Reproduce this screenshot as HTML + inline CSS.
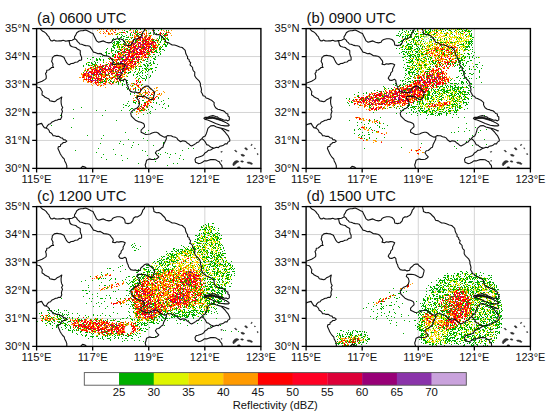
<!DOCTYPE html>
<html><head><meta charset="utf-8"><style>
html,body{margin:0;padding:0;background:#fff;}
svg{display:block;}
text{font-family:"Liberation Sans",sans-serif;fill:#111;}
</style></head><body>
<svg width="550" height="420" viewBox="0 0 550 420">
<defs><filter id="fzaS" filterUnits="userSpaceOnUse" x="0" y="0" width="224.3" height="139.8" color-interpolation-filters="sRGB"><feGaussianBlur in="SourceGraphic" stdDeviation="3.5" result="f"/><feTurbulence type="fractalNoise" baseFrequency="0.6" numOctaves="2" seed="3" result="t"/><feColorMatrix in="t" type="matrix" values="1 0 0 0 0 1 0 0 0 0 1 0 0 0 0 0 0 0 0 1" result="n"/><feComposite in="f" in2="n" operator="arithmetic" k1="0" k2="1" k3="0.8" k4="-0.55" result="v"/><feComponentTransfer in="v" result="c"><feFuncR type="discrete" tableValues="1 1 1 1 1 1 1 1 1 1 1 1 1 1 0.000 1 0.000 0.000 1 0.000 0.871 1 0.871 1 1.000 1 1.000 1 1.000 1 1.000 1.000 1.000 1.000 1.000 1.000 1.000 1.000 1.000 1.000"/><feFuncG type="discrete" tableValues="1 1 1 1 1 1 1 1 1 1 1 1 1 1 0.682 1 0.682 0.682 1 0.682 0.961 1 0.961 1 0.800 1 0.800 1 0.604 1 0.604 0.604 0.000 0.000 0.000 0.000 0.000 0.000 0.000 0.000"/><feFuncB type="discrete" tableValues="1 1 1 1 1 1 1 1 1 1 1 1 1 1 0.000 1 0.000 0.000 1 0.000 0.000 1 0.000 1 0.000 1 0.000 1 0.000 1 0.000 0.000 0.000 0.000 0.000 0.000 0.000 0.000 0.000 0.000"/></feComponentTransfer><feColorMatrix in="v" type="matrix" values="0 0 0 0 0 0 0 0 0 0 0 0 0 0 0 1 0 0 0 0" result="va"/><feComponentTransfer in="va" result="m"><feFuncA type="discrete" tableValues="0 0 0 0 0 0 0 0 0 0 0 0 0 0 1 0 1 1 0 1 1 0 1 0 1 0 1 0 1 0 1 1 1 1 1 1 1 1 1 1"/></feComponentTransfer><feComposite in="c" in2="m" operator="in"/><feGaussianBlur stdDeviation="0.65"/></filter><filter id="fzaC" filterUnits="userSpaceOnUse" x="0" y="0" width="224.3" height="139.8" color-interpolation-filters="sRGB"><feGaussianBlur in="SourceGraphic" stdDeviation="2.8" result="f"/><feTurbulence type="fractalNoise" baseFrequency="0.6" numOctaves="2" seed="53" result="t"/><feColorMatrix in="t" type="matrix" values="1 0 0 0 0 1 0 0 0 0 1 0 0 0 0 0 0 0 0 1" result="n"/><feComposite in="f" in2="n" operator="arithmetic" k1="0" k2="1.3" k3="1.5" k4="-1.05" result="v"/><feComponentTransfer in="v" result="c"><feFuncR type="discrete" tableValues="1 1 1 1 1 1 1 1 1 1 1 1 1 1 1.000 1 1.000 1.000 1 1.000 1.000 1.000 1.000 1 1.000 1.000 1.000 1 1.000 1.000 1.000 0.867 0.867 0.596 0.596 0.596 0.541 0.541 0.541 0.541"/><feFuncG type="discrete" tableValues="1 1 1 1 1 1 1 1 1 1 1 1 1 1 0.604 1 0.604 0.604 1 0.604 0.604 0.000 0.000 1 0.000 0.000 0.000 1 0.000 0.000 0.000 0.000 0.000 0.000 0.000 0.000 0.204 0.204 0.204 0.204"/><feFuncB type="discrete" tableValues="1 1 1 1 1 1 1 1 1 1 1 1 1 1 0.000 1 0.000 0.000 1 0.000 0.000 0.000 0.000 1 0.000 0.000 0.000 1 0.000 0.141 0.141 0.220 0.220 0.467 0.467 0.467 0.667 0.667 0.667 0.667"/></feComponentTransfer><feColorMatrix in="v" type="matrix" values="0 0 0 0 0 0 0 0 0 0 0 0 0 0 0 1 0 0 0 0" result="va"/><feComponentTransfer in="va" result="m"><feFuncA type="discrete" tableValues="0 0 0 0 0 0 0 0 0 0 0 0 0 0 1 0 1 1 0 1 1 1 1 0 1 1 1 0 1 1 1 1 1 1 1 1 1 1 1 1"/></feComponentTransfer><feComposite in="c" in2="m" operator="in"/><feGaussianBlur stdDeviation="0.65"/></filter><filter id="fzaK" filterUnits="userSpaceOnUse" x="0" y="0" width="224.3" height="139.8" color-interpolation-filters="sRGB"><feGaussianBlur in="SourceGraphic" stdDeviation="1" result="f"/><feTurbulence type="fractalNoise" baseFrequency="0.6" numOctaves="2" seed="93" result="t"/><feColorMatrix in="t" type="matrix" values="1 0 0 0 0 1 0 0 0 0 1 0 0 0 0 0 0 0 0 1" result="n"/><feComposite in="f" in2="n" operator="arithmetic" k1="0" k2="1.3" k3="1.3" k4="-0.95" result="v"/><feComponentTransfer in="v" result="c"><feFuncR type="discrete" tableValues="1 1 1 1 1 1 1 1 1 1 1 1 1 1 1.000 1 1.000 1.000 1 1.000 1.000 1.000 1.000 1 1.000 1.000 1.000 1 1.000 1.000 1.000 0.867 0.867 0.596 0.596 0.596 0.541 0.541 0.541 0.541"/><feFuncG type="discrete" tableValues="1 1 1 1 1 1 1 1 1 1 1 1 1 1 0.604 1 0.604 0.604 1 0.604 0.604 0.000 0.000 1 0.000 0.000 0.000 1 0.000 0.000 0.000 0.000 0.000 0.000 0.000 0.000 0.204 0.204 0.204 0.204"/><feFuncB type="discrete" tableValues="1 1 1 1 1 1 1 1 1 1 1 1 1 1 0.000 1 0.000 0.000 1 0.000 0.000 0.000 0.000 1 0.000 0.000 0.000 1 0.000 0.141 0.141 0.220 0.220 0.467 0.467 0.467 0.667 0.667 0.667 0.667"/></feComponentTransfer><feColorMatrix in="v" type="matrix" values="0 0 0 0 0 0 0 0 0 0 0 0 0 0 0 1 0 0 0 0" result="va"/><feComponentTransfer in="va" result="m"><feFuncA type="discrete" tableValues="0 0 0 0 0 0 0 0 0 0 0 0 0 0 1 0 1 1 0 1 1 1 1 0 1 1 1 0 1 1 1 1 1 1 1 1 1 1 1 1"/></feComponentTransfer><feComposite in="c" in2="m" operator="in"/><feGaussianBlur stdDeviation="0.65"/></filter><filter id="fzbS" filterUnits="userSpaceOnUse" x="0" y="0" width="224.3" height="139.8" color-interpolation-filters="sRGB"><feGaussianBlur in="SourceGraphic" stdDeviation="3.5" result="f"/><feTurbulence type="fractalNoise" baseFrequency="0.6" numOctaves="2" seed="7" result="t"/><feColorMatrix in="t" type="matrix" values="1 0 0 0 0 1 0 0 0 0 1 0 0 0 0 0 0 0 0 1" result="n"/><feComposite in="f" in2="n" operator="arithmetic" k1="0" k2="1" k3="0.8" k4="-0.55" result="v"/><feComponentTransfer in="v" result="c"><feFuncR type="discrete" tableValues="1 1 1 1 1 1 1 1 1 1 1 1 1 1 0.000 1 0.000 0.000 1 0.000 0.871 1 0.871 1 1.000 1 1.000 1 1.000 1 1.000 1.000 1.000 1.000 1.000 1.000 1.000 1.000 1.000 1.000"/><feFuncG type="discrete" tableValues="1 1 1 1 1 1 1 1 1 1 1 1 1 1 0.682 1 0.682 0.682 1 0.682 0.961 1 0.961 1 0.800 1 0.800 1 0.604 1 0.604 0.604 0.000 0.000 0.000 0.000 0.000 0.000 0.000 0.000"/><feFuncB type="discrete" tableValues="1 1 1 1 1 1 1 1 1 1 1 1 1 1 0.000 1 0.000 0.000 1 0.000 0.000 1 0.000 1 0.000 1 0.000 1 0.000 1 0.000 0.000 0.000 0.000 0.000 0.000 0.000 0.000 0.000 0.000"/></feComponentTransfer><feColorMatrix in="v" type="matrix" values="0 0 0 0 0 0 0 0 0 0 0 0 0 0 0 1 0 0 0 0" result="va"/><feComponentTransfer in="va" result="m"><feFuncA type="discrete" tableValues="0 0 0 0 0 0 0 0 0 0 0 0 0 0 1 0 1 1 0 1 1 0 1 0 1 0 1 0 1 0 1 1 1 1 1 1 1 1 1 1"/></feComponentTransfer><feComposite in="c" in2="m" operator="in"/><feGaussianBlur stdDeviation="0.65"/></filter><filter id="fzbC" filterUnits="userSpaceOnUse" x="0" y="0" width="224.3" height="139.8" color-interpolation-filters="sRGB"><feGaussianBlur in="SourceGraphic" stdDeviation="2.8" result="f"/><feTurbulence type="fractalNoise" baseFrequency="0.6" numOctaves="2" seed="57" result="t"/><feColorMatrix in="t" type="matrix" values="1 0 0 0 0 1 0 0 0 0 1 0 0 0 0 0 0 0 0 1" result="n"/><feComposite in="f" in2="n" operator="arithmetic" k1="0" k2="1.3" k3="1.5" k4="-1.05" result="v"/><feComponentTransfer in="v" result="c"><feFuncR type="discrete" tableValues="1 1 1 1 1 1 1 1 1 1 1 1 1 1 1.000 1 1.000 1.000 1 1.000 1.000 1.000 1.000 1 1.000 1.000 1.000 1 1.000 1.000 1.000 0.867 0.867 0.596 0.596 0.596 0.541 0.541 0.541 0.541"/><feFuncG type="discrete" tableValues="1 1 1 1 1 1 1 1 1 1 1 1 1 1 0.604 1 0.604 0.604 1 0.604 0.604 0.000 0.000 1 0.000 0.000 0.000 1 0.000 0.000 0.000 0.000 0.000 0.000 0.000 0.000 0.204 0.204 0.204 0.204"/><feFuncB type="discrete" tableValues="1 1 1 1 1 1 1 1 1 1 1 1 1 1 0.000 1 0.000 0.000 1 0.000 0.000 0.000 0.000 1 0.000 0.000 0.000 1 0.000 0.141 0.141 0.220 0.220 0.467 0.467 0.467 0.667 0.667 0.667 0.667"/></feComponentTransfer><feColorMatrix in="v" type="matrix" values="0 0 0 0 0 0 0 0 0 0 0 0 0 0 0 1 0 0 0 0" result="va"/><feComponentTransfer in="va" result="m"><feFuncA type="discrete" tableValues="0 0 0 0 0 0 0 0 0 0 0 0 0 0 1 0 1 1 0 1 1 1 1 0 1 1 1 0 1 1 1 1 1 1 1 1 1 1 1 1"/></feComponentTransfer><feComposite in="c" in2="m" operator="in"/><feGaussianBlur stdDeviation="0.65"/></filter><filter id="fzbK" filterUnits="userSpaceOnUse" x="0" y="0" width="224.3" height="139.8" color-interpolation-filters="sRGB"><feGaussianBlur in="SourceGraphic" stdDeviation="1" result="f"/><feTurbulence type="fractalNoise" baseFrequency="0.6" numOctaves="2" seed="97" result="t"/><feColorMatrix in="t" type="matrix" values="1 0 0 0 0 1 0 0 0 0 1 0 0 0 0 0 0 0 0 1" result="n"/><feComposite in="f" in2="n" operator="arithmetic" k1="0" k2="1.3" k3="1.3" k4="-0.95" result="v"/><feComponentTransfer in="v" result="c"><feFuncR type="discrete" tableValues="1 1 1 1 1 1 1 1 1 1 1 1 1 1 1.000 1 1.000 1.000 1 1.000 1.000 1.000 1.000 1 1.000 1.000 1.000 1 1.000 1.000 1.000 0.867 0.867 0.596 0.596 0.596 0.541 0.541 0.541 0.541"/><feFuncG type="discrete" tableValues="1 1 1 1 1 1 1 1 1 1 1 1 1 1 0.604 1 0.604 0.604 1 0.604 0.604 0.000 0.000 1 0.000 0.000 0.000 1 0.000 0.000 0.000 0.000 0.000 0.000 0.000 0.000 0.204 0.204 0.204 0.204"/><feFuncB type="discrete" tableValues="1 1 1 1 1 1 1 1 1 1 1 1 1 1 0.000 1 0.000 0.000 1 0.000 0.000 0.000 0.000 1 0.000 0.000 0.000 1 0.000 0.141 0.141 0.220 0.220 0.467 0.467 0.467 0.667 0.667 0.667 0.667"/></feComponentTransfer><feColorMatrix in="v" type="matrix" values="0 0 0 0 0 0 0 0 0 0 0 0 0 0 0 1 0 0 0 0" result="va"/><feComponentTransfer in="va" result="m"><feFuncA type="discrete" tableValues="0 0 0 0 0 0 0 0 0 0 0 0 0 0 1 0 1 1 0 1 1 1 1 0 1 1 1 0 1 1 1 1 1 1 1 1 1 1 1 1"/></feComponentTransfer><feComposite in="c" in2="m" operator="in"/><feGaussianBlur stdDeviation="0.65"/></filter><filter id="fzcS" filterUnits="userSpaceOnUse" x="0" y="0" width="224.3" height="139.8" color-interpolation-filters="sRGB"><feGaussianBlur in="SourceGraphic" stdDeviation="3.5" result="f"/><feTurbulence type="fractalNoise" baseFrequency="0.6" numOctaves="2" seed="11" result="t"/><feColorMatrix in="t" type="matrix" values="1 0 0 0 0 1 0 0 0 0 1 0 0 0 0 0 0 0 0 1" result="n"/><feComposite in="f" in2="n" operator="arithmetic" k1="0" k2="1" k3="0.8" k4="-0.55" result="v"/><feComponentTransfer in="v" result="c"><feFuncR type="discrete" tableValues="1 1 1 1 1 1 1 1 1 1 1 1 1 1 0.000 1 0.000 0.000 1 0.000 0.871 1 0.871 1 1.000 1 1.000 1 1.000 1 1.000 1.000 1.000 1.000 1.000 1.000 1.000 1.000 1.000 1.000"/><feFuncG type="discrete" tableValues="1 1 1 1 1 1 1 1 1 1 1 1 1 1 0.682 1 0.682 0.682 1 0.682 0.961 1 0.961 1 0.800 1 0.800 1 0.604 1 0.604 0.604 0.000 0.000 0.000 0.000 0.000 0.000 0.000 0.000"/><feFuncB type="discrete" tableValues="1 1 1 1 1 1 1 1 1 1 1 1 1 1 0.000 1 0.000 0.000 1 0.000 0.000 1 0.000 1 0.000 1 0.000 1 0.000 1 0.000 0.000 0.000 0.000 0.000 0.000 0.000 0.000 0.000 0.000"/></feComponentTransfer><feColorMatrix in="v" type="matrix" values="0 0 0 0 0 0 0 0 0 0 0 0 0 0 0 1 0 0 0 0" result="va"/><feComponentTransfer in="va" result="m"><feFuncA type="discrete" tableValues="0 0 0 0 0 0 0 0 0 0 0 0 0 0 1 0 1 1 0 1 1 0 1 0 1 0 1 0 1 0 1 1 1 1 1 1 1 1 1 1"/></feComponentTransfer><feComposite in="c" in2="m" operator="in"/><feGaussianBlur stdDeviation="0.65"/></filter><filter id="fzcC" filterUnits="userSpaceOnUse" x="0" y="0" width="224.3" height="139.8" color-interpolation-filters="sRGB"><feGaussianBlur in="SourceGraphic" stdDeviation="2.8" result="f"/><feTurbulence type="fractalNoise" baseFrequency="0.6" numOctaves="2" seed="61" result="t"/><feColorMatrix in="t" type="matrix" values="1 0 0 0 0 1 0 0 0 0 1 0 0 0 0 0 0 0 0 1" result="n"/><feComposite in="f" in2="n" operator="arithmetic" k1="0" k2="1.3" k3="1.5" k4="-1.05" result="v"/><feComponentTransfer in="v" result="c"><feFuncR type="discrete" tableValues="1 1 1 1 1 1 1 1 1 1 1 1 1 1 1.000 1 1.000 1.000 1 1.000 1.000 1.000 1.000 1 1.000 1.000 1.000 1 1.000 1.000 1.000 0.867 0.867 0.596 0.596 0.596 0.541 0.541 0.541 0.541"/><feFuncG type="discrete" tableValues="1 1 1 1 1 1 1 1 1 1 1 1 1 1 0.604 1 0.604 0.604 1 0.604 0.604 0.000 0.000 1 0.000 0.000 0.000 1 0.000 0.000 0.000 0.000 0.000 0.000 0.000 0.000 0.204 0.204 0.204 0.204"/><feFuncB type="discrete" tableValues="1 1 1 1 1 1 1 1 1 1 1 1 1 1 0.000 1 0.000 0.000 1 0.000 0.000 0.000 0.000 1 0.000 0.000 0.000 1 0.000 0.141 0.141 0.220 0.220 0.467 0.467 0.467 0.667 0.667 0.667 0.667"/></feComponentTransfer><feColorMatrix in="v" type="matrix" values="0 0 0 0 0 0 0 0 0 0 0 0 0 0 0 1 0 0 0 0" result="va"/><feComponentTransfer in="va" result="m"><feFuncA type="discrete" tableValues="0 0 0 0 0 0 0 0 0 0 0 0 0 0 1 0 1 1 0 1 1 1 1 0 1 1 1 0 1 1 1 1 1 1 1 1 1 1 1 1"/></feComponentTransfer><feComposite in="c" in2="m" operator="in"/><feGaussianBlur stdDeviation="0.65"/></filter><filter id="fzcK" filterUnits="userSpaceOnUse" x="0" y="0" width="224.3" height="139.8" color-interpolation-filters="sRGB"><feGaussianBlur in="SourceGraphic" stdDeviation="1" result="f"/><feTurbulence type="fractalNoise" baseFrequency="0.6" numOctaves="2" seed="101" result="t"/><feColorMatrix in="t" type="matrix" values="1 0 0 0 0 1 0 0 0 0 1 0 0 0 0 0 0 0 0 1" result="n"/><feComposite in="f" in2="n" operator="arithmetic" k1="0" k2="1.3" k3="1.3" k4="-0.95" result="v"/><feComponentTransfer in="v" result="c"><feFuncR type="discrete" tableValues="1 1 1 1 1 1 1 1 1 1 1 1 1 1 1.000 1 1.000 1.000 1 1.000 1.000 1.000 1.000 1 1.000 1.000 1.000 1 1.000 1.000 1.000 0.867 0.867 0.596 0.596 0.596 0.541 0.541 0.541 0.541"/><feFuncG type="discrete" tableValues="1 1 1 1 1 1 1 1 1 1 1 1 1 1 0.604 1 0.604 0.604 1 0.604 0.604 0.000 0.000 1 0.000 0.000 0.000 1 0.000 0.000 0.000 0.000 0.000 0.000 0.000 0.000 0.204 0.204 0.204 0.204"/><feFuncB type="discrete" tableValues="1 1 1 1 1 1 1 1 1 1 1 1 1 1 0.000 1 0.000 0.000 1 0.000 0.000 0.000 0.000 1 0.000 0.000 0.000 1 0.000 0.141 0.141 0.220 0.220 0.467 0.467 0.467 0.667 0.667 0.667 0.667"/></feComponentTransfer><feColorMatrix in="v" type="matrix" values="0 0 0 0 0 0 0 0 0 0 0 0 0 0 0 1 0 0 0 0" result="va"/><feComponentTransfer in="va" result="m"><feFuncA type="discrete" tableValues="0 0 0 0 0 0 0 0 0 0 0 0 0 0 1 0 1 1 0 1 1 1 1 0 1 1 1 0 1 1 1 1 1 1 1 1 1 1 1 1"/></feComponentTransfer><feComposite in="c" in2="m" operator="in"/><feGaussianBlur stdDeviation="0.65"/></filter><filter id="fzdS" filterUnits="userSpaceOnUse" x="0" y="0" width="224.3" height="139.8" color-interpolation-filters="sRGB"><feGaussianBlur in="SourceGraphic" stdDeviation="3.5" result="f"/><feTurbulence type="fractalNoise" baseFrequency="0.6" numOctaves="2" seed="19" result="t"/><feColorMatrix in="t" type="matrix" values="1 0 0 0 0 1 0 0 0 0 1 0 0 0 0 0 0 0 0 1" result="n"/><feComposite in="f" in2="n" operator="arithmetic" k1="0" k2="1" k3="0.8" k4="-0.55" result="v"/><feComponentTransfer in="v" result="c"><feFuncR type="discrete" tableValues="1 1 1 1 1 1 1 1 1 1 1 1 1 1 0.000 1 0.000 0.000 1 0.000 0.871 1 0.871 1 1.000 1 1.000 1 1.000 1 1.000 1.000 1.000 1.000 1.000 1.000 1.000 1.000 1.000 1.000"/><feFuncG type="discrete" tableValues="1 1 1 1 1 1 1 1 1 1 1 1 1 1 0.682 1 0.682 0.682 1 0.682 0.961 1 0.961 1 0.800 1 0.800 1 0.604 1 0.604 0.604 0.000 0.000 0.000 0.000 0.000 0.000 0.000 0.000"/><feFuncB type="discrete" tableValues="1 1 1 1 1 1 1 1 1 1 1 1 1 1 0.000 1 0.000 0.000 1 0.000 0.000 1 0.000 1 0.000 1 0.000 1 0.000 1 0.000 0.000 0.000 0.000 0.000 0.000 0.000 0.000 0.000 0.000"/></feComponentTransfer><feColorMatrix in="v" type="matrix" values="0 0 0 0 0 0 0 0 0 0 0 0 0 0 0 1 0 0 0 0" result="va"/><feComponentTransfer in="va" result="m"><feFuncA type="discrete" tableValues="0 0 0 0 0 0 0 0 0 0 0 0 0 0 1 0 1 1 0 1 1 0 1 0 1 0 1 0 1 0 1 1 1 1 1 1 1 1 1 1"/></feComponentTransfer><feComposite in="c" in2="m" operator="in"/><feGaussianBlur stdDeviation="0.65"/></filter><filter id="fzdC" filterUnits="userSpaceOnUse" x="0" y="0" width="224.3" height="139.8" color-interpolation-filters="sRGB"><feGaussianBlur in="SourceGraphic" stdDeviation="2.8" result="f"/><feTurbulence type="fractalNoise" baseFrequency="0.6" numOctaves="2" seed="69" result="t"/><feColorMatrix in="t" type="matrix" values="1 0 0 0 0 1 0 0 0 0 1 0 0 0 0 0 0 0 0 1" result="n"/><feComposite in="f" in2="n" operator="arithmetic" k1="0" k2="1.3" k3="1.5" k4="-1.05" result="v"/><feComponentTransfer in="v" result="c"><feFuncR type="discrete" tableValues="1 1 1 1 1 1 1 1 1 1 1 1 1 1 1.000 1 1.000 1.000 1 1.000 1.000 1.000 1.000 1 1.000 1.000 1.000 1 1.000 1.000 1.000 0.867 0.867 0.596 0.596 0.596 0.541 0.541 0.541 0.541"/><feFuncG type="discrete" tableValues="1 1 1 1 1 1 1 1 1 1 1 1 1 1 0.604 1 0.604 0.604 1 0.604 0.604 0.000 0.000 1 0.000 0.000 0.000 1 0.000 0.000 0.000 0.000 0.000 0.000 0.000 0.000 0.204 0.204 0.204 0.204"/><feFuncB type="discrete" tableValues="1 1 1 1 1 1 1 1 1 1 1 1 1 1 0.000 1 0.000 0.000 1 0.000 0.000 0.000 0.000 1 0.000 0.000 0.000 1 0.000 0.141 0.141 0.220 0.220 0.467 0.467 0.467 0.667 0.667 0.667 0.667"/></feComponentTransfer><feColorMatrix in="v" type="matrix" values="0 0 0 0 0 0 0 0 0 0 0 0 0 0 0 1 0 0 0 0" result="va"/><feComponentTransfer in="va" result="m"><feFuncA type="discrete" tableValues="0 0 0 0 0 0 0 0 0 0 0 0 0 0 1 0 1 1 0 1 1 1 1 0 1 1 1 0 1 1 1 1 1 1 1 1 1 1 1 1"/></feComponentTransfer><feComposite in="c" in2="m" operator="in"/><feGaussianBlur stdDeviation="0.65"/></filter><filter id="fzdK" filterUnits="userSpaceOnUse" x="0" y="0" width="224.3" height="139.8" color-interpolation-filters="sRGB"><feGaussianBlur in="SourceGraphic" stdDeviation="1" result="f"/><feTurbulence type="fractalNoise" baseFrequency="0.6" numOctaves="2" seed="109" result="t"/><feColorMatrix in="t" type="matrix" values="1 0 0 0 0 1 0 0 0 0 1 0 0 0 0 0 0 0 0 1" result="n"/><feComposite in="f" in2="n" operator="arithmetic" k1="0" k2="1.3" k3="1.3" k4="-0.95" result="v"/><feComponentTransfer in="v" result="c"><feFuncR type="discrete" tableValues="1 1 1 1 1 1 1 1 1 1 1 1 1 1 1.000 1 1.000 1.000 1 1.000 1.000 1.000 1.000 1 1.000 1.000 1.000 1 1.000 1.000 1.000 0.867 0.867 0.596 0.596 0.596 0.541 0.541 0.541 0.541"/><feFuncG type="discrete" tableValues="1 1 1 1 1 1 1 1 1 1 1 1 1 1 0.604 1 0.604 0.604 1 0.604 0.604 0.000 0.000 1 0.000 0.000 0.000 1 0.000 0.000 0.000 0.000 0.000 0.000 0.000 0.000 0.204 0.204 0.204 0.204"/><feFuncB type="discrete" tableValues="1 1 1 1 1 1 1 1 1 1 1 1 1 1 0.000 1 0.000 0.000 1 0.000 0.000 0.000 0.000 1 0.000 0.000 0.000 1 0.000 0.141 0.141 0.220 0.220 0.467 0.467 0.467 0.667 0.667 0.667 0.667"/></feComponentTransfer><feColorMatrix in="v" type="matrix" values="0 0 0 0 0 0 0 0 0 0 0 0 0 0 0 1 0 0 0 0" result="va"/><feComponentTransfer in="va" result="m"><feFuncA type="discrete" tableValues="0 0 0 0 0 0 0 0 0 0 0 0 0 0 1 0 1 1 0 1 1 1 1 0 1 1 1 0 1 1 1 1 1 1 1 1 1 1 1 1"/></feComponentTransfer><feComposite in="c" in2="m" operator="in"/><feGaussianBlur stdDeviation="0.65"/></filter>
<filter id="hb" x="-50%" y="-50%" width="200%" height="200%"><feGaussianBlur stdDeviation="0.7"/></filter><clipPath id="cp"><rect x="0" y="0" width="224.3" height="139.8"/></clipPath>
<g id="bnd"><path d="M4.1 -0.5 L4.1 0.7 L6.1 2.7 L7.9 3.5 L9.5 4.8 L10.9 6.8 L12.4 8.2 L13.0 10.2 L14.3 12.0 L15.9 12.3 L17.5 11.5 L19.1 12.3 L20.9 12.4 L22.7 12.1 L24.5 12.3 L26.6 11.7 L28.6 12.5 L30.7 12.3 L32.7 12.0 L35.5 11.6 L38.2 10.2 M38.2 10.2 L37.8 8.4 L38.9 6.8 L40.2 4.1 L42.3 2.7 L44.3 2.2 L46.4 2.0 L49.1 1.4 L51.8 2.7 L54.5 4.1 L56.4 5.0 L57.3 6.8 L58.6 9.5 L60.0 12.3 L62.0 13.6 L64.1 13.0 L66.8 12.3 L69.5 13.6 L72.3 14.3 L75.0 13.6 L75.9 11.8 L77.7 10.9 L80.5 10.2 L83.2 10.2 L85.9 10.9 L88.0 13.0 L88.4 14.7 L88.6 16.4 L91.4 17.0 L94.1 16.4 L96.1 14.3 L96.8 11.6 L98.9 10.2 L100.7 10.4 L102.3 9.5 L104.3 8.2 L105.7 5.5 L106.2 3.5 L107.7 2.0 L108.4 -0.5 M38.2 10.2 L39.9 11.3 L40.9 13.0 L42.2 14.1 L43.2 15.4 L45.0 15.7 L47.0 16.5 L49.1 17.0 L51.2 17.2 L53.2 17.7 L54.5 19.8 L55.9 21.8 L56.8 23.5 L58.6 23.9 L61.4 25.2 L63.6 24.8 L65.5 25.9 L67.3 27.1 L69.5 27.3 L71.7 27.6 L73.6 28.6 L74.5 30.0 L76.3 32.2 L76.7 33.9 L75.9 35.5 L78.5 36.2 L80.2 35.2 L82.1 35.5 L84.3 35.0 L86.5 35.1 L88.6 36.2 L87.5 38.7 L86.5 40.4 L86.5 42.4 L84.6 44.5 L84.4 46.2 L83.2 47.5 L82.1 49.6 L83.5 51.5 L85.7 51.8 L88.3 50.7 L89.7 51.8 L89.9 53.5 L90.2 55.2 L90.8 56.9 L91.6 58.5 L92.0 60.2 L93.0 61.6 L94.1 63.0 L96.8 63.6 L99.0 63.3 L100.9 64.3 L103.6 63.6 L104.1 61.5 L105.7 60.2 L107.7 58.2 L109.7 57.4 L111.8 57.5 L112.9 59.1 L114.5 60.2 L115.9 61.6 L118.0 63.6 L117.8 65.3 L117.3 67.0 L116.9 68.9 L115.9 70.5 L113.9 71.1 L111.8 69.8 L109.1 68.4 L107.1 67.9 L105.0 67.7 L103.0 67.8 L100.9 67.7 L100.2 69.8 L102.3 71.8 L103.0 74.5 L102.3 77.3 L101.1 78.9 L99.5 80.0 L97.6 80.6 L96.1 82.0 L94.8 83.2 L94.1 84.8 L94.8 87.5 L96.8 89.5 L98.9 91.6 L101.6 93.0 L104.3 93.6 L107.0 95.0 L107.8 96.5 L107.9 98.2 L106.7 99.2 L105.6 100.4 L104.5 101.6 L104.5 103.7 L107.2 105.0 L109.1 105.9 L111.3 105.7 L113.5 105.4 L115.4 104.4 L118.1 103.7 L119.9 103.7 L121.5 104.4 L123.6 106.4 L126.3 107.8 L128.0 108.6 L129.7 107.8 M129.7 107.8 L131.2 107.0 L132.9 107.2 L134.5 107.1 L136.4 108.2 L138.6 108.5 L140.3 109.5 L141.3 111.2 L142.7 112.2 L144.0 113.2 L145.9 112.1 L148.1 112.5 L149.5 113.2 L150.7 114.5 L152.2 115.3 L153.4 116.6 L155.0 117.3 L157.7 115.9 L159.1 115.0 L160.4 113.9 L162.1 113.4 L163.1 111.9 L165.2 110.0 L166.5 108.5 L168.6 107.4 L169.8 104.8 L170.5 102.7 L171.3 99.8 M165.2 110.0 L167.1 111.4 L168.6 113.2 L170.0 116.0 L172.0 116.6 L173.2 117.9 L174.7 118.7 L176.4 119.2 L178.1 119.4 M184.1 99.5 L186.5 101.5 L188.4 103.4 L189.8 105.3 L191.3 107.0 L192.3 109.0 L193.2 111.0 L193.1 112.5 L191.4 113.5 L190.4 115.3 L188.4 115.3 L186.8 116.7 L185.0 117.3 L183.2 117.6 L181.8 119.0 L179.7 118.6 L178.1 119.4 M168.0 90.5 L171.0 89.6 L176.0 89.2 L181.0 90.4 L185.0 92.0 L189.0 93.8 L192.0 95.6 L192.7 96.6 L192.0 97.3 L188.4 97.3 L184.1 96.6 L179.1 94.8 L174.1 92.7 L169.8 91.0 L168.0 90.5 M171.3 99.8 L174.1 97.3 L177.0 97.0 L179.8 98.4 L184.1 99.5 L187.0 100.2 L190.5 101.6 L192.7 102.3 M178.1 119.4 L175.9 120.2 L174.0 121.4 L171.6 121.8 L170.0 123.5 L168.2 124.5 L167.2 126.2 L165.3 127.5 L163.1 128.2 L161.4 128.7 L159.7 128.9 L158.4 131.0 L159.0 133.7 L161.8 135.0 L163.9 134.6 L165.9 133.7 L167.7 132.3 L170.0 132.3 L172.0 131.6 L174.0 131.0 L176.8 131.0 L179.0 131.1 L180.9 132.3 L182.7 133.2 L183.6 135.0 L185.2 136.7 L185.6 139.1 L186.0 140.5 M129.7 107.8 L129.7 110.5 L128.4 113.2 L127.0 115.9 L126.3 118.7 L124.7 119.4 L123.6 120.7 L122.1 121.9 L120.2 122.1 L118.8 124.1 L120.2 126.2 L122.2 128.2 L120.9 129.6 L119.0 130.6 L116.8 130.9 L114.7 130.8 L112.7 130.3 L110.0 131.6 L109.3 134.4 L108.6 136.4 L109.3 139.1 L109.3 140.5 M32.7 12.0 L32.7 13.6 L33.4 16.4 L34.8 17.9 L36.8 18.4 L39.2 18.9 L40.9 20.5 L43.6 21.8 L43.7 23.5 L43.6 25.2 L44.2 26.9 L45.0 28.6 L45.0 31.4 L42.7 31.8 L40.9 33.4 L38.7 33.6 L36.8 34.8 L34.6 34.9 L32.7 36.1 L31.1 35.4 L30.0 34.1 L28.6 31.4 L27.3 28.6 L24.5 27.3 L22.5 27.1 L20.5 26.6 L17.7 27.3 L15.7 29.3 L15.6 31.0 L15.0 32.7 L16.4 35.5 L16.1 37.3 L17.0 38.9 L15.0 38.9 L13.6 40.2 L12.1 41.4 L10.2 41.6 L10.0 43.5 L8.9 45.0 L9.5 46.6 L9.7 48.3 L9.5 50.0 L8.2 51.0 L5.5 52.7 L3.5 53.4 L1.4 54.1 L-0.5 54.8 M-0.5 58.2 L1.1 58.7 L2.7 58.9 L4.0 60.0 L4.8 61.6 L5.8 63.1 L5.4 64.8 L5.5 66.4 L7.0 67.2 L8.2 68.4 L10.2 69.5 L12.3 70.5 L13.2 72.1 L15.0 72.5 L17.7 73.2 L19.3 72.4 L20.5 71.1 L23.2 69.8 L25.2 68.4 L24.8 70.1 L24.5 71.8 L24.5 73.7 L24.7 75.5 L25.2 77.3 L26.1 79.0 L25.0 81.0 L25.9 82.7 L25.2 84.5 L24.8 86.3 L25.2 88.2 L23.9 90.9 L22.2 90.7 L20.7 91.5 L19.1 91.6 L17.1 92.7 L15.0 93.6 L14.0 95.2 L12.1 95.7 L10.9 97.0 L9.7 99.5 L11.4 100.5 L12.5 101.9 L13.1 103.7 L14.6 104.5 L15.7 105.6 L16.5 107.1 L18.3 107.2 L20.0 107.8 L22.3 107.8 L24.1 109.1 L25.9 109.5 L26.8 111.2 L28.7 111.3 L30.2 112.5 L28.7 113.8 L26.8 113.9 L25.6 115.1 L24.1 115.9 L23.8 117.7 L21.7 118.3 L21.3 120.0 L22.7 122.8 L23.5 124.9 L24.7 126.9 L26.1 128.9 L27.6 130.3 L28.1 132.3 L29.5 135.0 L30.2 137.0 L30.2 139.1 L30.2 140.5 M-0.5 96.8 L2.2 95.5 L5.0 94.8 L6.3 97.0 L7.7 99.0 L9.7 99.5 M43.8 140.5 L44.7 139.0 L45.9 137.8 L48.6 138.5 L50.6 140.5 M116.6 -0.5 L116.6 1.4 L117.2 3.1 L117.3 4.8 L120.0 6.1 L122.2 5.9 L124.1 6.8 L126.1 8.9 L128.2 10.9 L129.5 13.6 L132.3 14.3 L133.9 15.5 L135.6 16.4 L137.7 16.4 L139.6 17.0 L141.4 17.7 L143.2 18.4 L145.6 18.9 L147.3 20.5 L148.6 21.8 L148.9 23.5 L149.3 25.2 L150.0 26.6 L151.0 28.0 L150.9 29.9 L152.5 31.0 L152.7 32.7 L154.1 34.0 L153.4 36.2 L154.7 37.5 L156.0 38.9 L156.1 40.7 L156.8 42.3 L158.2 43.5 L158.1 45.4 L158.1 47.2 L159.0 48.7 L160.2 50.0 L162.5 52.2 L163.8 55.0 L163.8 57.1 L164.5 59.0 L164.9 61.0 L164.5 63.1 L165.7 65.1 L166.5 67.2 L168.4 67.6 L169.5 69.4 L171.3 69.9 L173.3 71.0 L175.4 72.0 L177.6 74.0 L177.4 75.8 L178.0 77.4 L179.0 79.2 L181.2 80.7 L183.1 81.0 L184.9 81.8 L186.8 82.2 L188.4 83.4 L189.6 84.9 L191.3 85.5 L191.3 87.3 L192.7 88.4 L192.7 91.3 L191.3 92.3 L189.6 91.4 L187.7 91.6 L184.8 90.5 L182.0 89.5 L180.8 88.3 L179.1 88.0 L176.3 87.0 L173.4 87.7 L170.5 88.8 L168.4 88.8 L167.3 89.5 L168.0 90.5" fill="none" stroke="#111" stroke-width="1.1" stroke-linejoin="round"/>
<path d="M171.0 89.2 L176.0 88.3 L181.0 89.8 L185.0 91.6 L186.0 92.4 L181.0 91.0 L176.0 89.6 L171.5 90.0 Z" fill="#111" stroke="#111" stroke-width="0.8"/><path d="M190.1 101.5 L191.3 101.6 L191.9 102.4 L190.9 102.5 Z M214.2 116.4 L215.0 115.7 L215.7 116.0 L215.3 116.7 L214.4 116.9 Z M208.0 119.5 L209.2 119.1 L210.4 119.8 L211.0 121.0 L209.8 121.3 L208.9 120.7 Z M217.5 119.6 L218.4 119.4 L219.0 119.9 L218.2 120.2 Z M197.9 121.9 L199.1 121.7 L200.3 122.8 L200.0 123.5 L198.8 122.8 Z M204.3 126.0 L206.1 125.7 L208.2 126.9 L207.3 127.7 L205.2 127.4 Z M184.1 123.2 L185.6 122.8 L185.6 123.4 L184.4 123.7 Z M184.6 132.0 L185.4 131.9 L185.3 132.6 L184.7 132.7 Z M196.6 134.4 L198.1 132.6 L199.9 132.0 L201.7 132.3 L202.3 133.2 L200.8 133.8 L199.6 135.0 L198.1 136.2 L196.9 137.4 L196.2 135.9 Z M204.0 132.4 L205.8 132.2 L207.0 133.0 L206.1 133.6 L204.6 133.3 Z M210.5 133.7 L212.5 133.4 L214.9 134.1 L216.0 135.3 L215.0 135.8 L212.8 135.0 L211.0 134.6 Z M200.9 138.4 L202.7 138.1 L203.9 139.0 L202.7 139.6 L201.2 139.6 Z M220.4 125.2 L221.3 124.9 L221.6 125.8 L220.9 126.1 Z" fill="#333" stroke="#222" stroke-width="0.5"/></g>
</defs>
<rect width="550" height="420" fill="#fff"/>

<g transform="translate(36.6 28.6)">
<path d="M56.08 0V139.80M112.15 0V139.80M168.23 0V139.80M0 27.96H224.30M0 55.92H224.30M0 83.88H224.30M0 111.84H224.30" stroke="#d4d4d4" stroke-width="1" fill="none"/>
<g filter="url(#fzaS)"><rect x="0" y="0" width="224.3" height="139.8" fill="#000"/><ellipse cx="60" cy="100" rx="60" ry="30" fill="rgb(69,69,69)"/><ellipse cx="110" cy="125" rx="60" ry="16" fill="rgb(82,82,82)"/><ellipse cx="110" cy="75" rx="28" ry="14" fill="rgb(102,102,102)"/><path d="M43.0 35.0 L48.0 28.0 L60.0 25.0 L70.0 14.0 L76.0 6.0 L80.0 -2.0 L135.0 -2.0 L135.0 8.0 L128.0 20.0 L124.0 35.0 L120.0 45.0 L112.0 52.0 L108.0 60.0 L100.0 64.0 L88.0 62.0 L75.0 57.0 L55.0 57.0 L44.0 50.0 Z" fill="rgb(122,122,122)"/><ellipse cx="72" cy="50" rx="8" ry="4" fill="rgb(153,153,153)"/><ellipse cx="85" cy="18" rx="9" ry="5" fill="rgb(158,158,158)"/><ellipse cx="125" cy="14" rx="10" ry="10" fill="rgb(150,150,150)"/><ellipse cx="112" cy="42" rx="9" ry="7" fill="rgb(135,135,135)"/><ellipse cx="95" cy="51" rx="3" ry="3" fill="rgb(0,0,0)"/><ellipse cx="118.7" cy="8.2" rx="2.5" ry="2.5" fill="rgb(0,0,0)"/></g>
<g filter="url(#fzaC)"><rect x="0" y="0" width="224.3" height="139.8" fill="#000"/><ellipse cx="67" cy="46" rx="24" ry="12" transform="rotate(-5 67 46)" fill="rgb(177,177,177)"/><ellipse cx="102" cy="20" rx="22" ry="12" transform="rotate(-20 102 20)" fill="rgb(177,177,177)"/><ellipse cx="88" cy="33" rx="16" ry="10" fill="rgb(173,173,173)"/><ellipse cx="100" cy="4" rx="16" ry="4" fill="rgb(141,141,141)"/><ellipse cx="128" cy="5" rx="10" ry="5" fill="rgb(147,147,147)"/><path d="M57.0 -2.0 L85.0 -2.0 L82.0 8.0 L62.0 8.0 Z" fill="rgb(129,129,129)"/><ellipse cx="99" cy="55" rx="9" ry="6" fill="rgb(149,149,149)"/><ellipse cx="108" cy="66" rx="18" ry="6" transform="rotate(-25 108 66)" fill="rgb(133,133,133)"/><ellipse cx="72" cy="50" rx="7" ry="3" fill="rgb(78,78,78)"/><ellipse cx="85" cy="18" rx="8" ry="4" fill="rgb(98,98,98)"/><ellipse cx="95" cy="51" rx="3" ry="3" fill="rgb(0,0,0)"/><ellipse cx="118.7" cy="8.2" rx="2.5" ry="2.5" fill="rgb(0,0,0)"/></g>
<g filter="url(#fzaK)"><rect x="0" y="0" width="224.3" height="139.8" fill="#000"/><ellipse cx="90" cy="37" rx="9" ry="2.5" fill="rgb(196,196,196)"/><ellipse cx="110" cy="75" rx="14" ry="2.5" transform="rotate(-35 110 75)" fill="rgb(163,163,163)"/><ellipse cx="120" cy="68" rx="12" ry="2" transform="rotate(-35 120 68)" fill="rgb(167,167,167)"/><ellipse cx="105" cy="82" rx="10" ry="2" transform="rotate(-35 105 82)" fill="rgb(159,159,159)"/></g>
<ellipse cx="95" cy="51" rx="3" ry="3" fill="#fff" fill-opacity="1" filter="url(#hb)"/>
<ellipse cx="118.7" cy="8.2" rx="2.5" ry="2.5" fill="#fff" fill-opacity="0.9" filter="url(#hb)"/>
<g clip-path="url(#cp)"><use href="#bnd"/></g>
<rect x="0" y="0" width="224.3" height="139.8" fill="none" stroke="#000" stroke-width="1.4"/>
<path d="M0.00 139.80V144.00M56.08 139.80V144.00M112.15 139.80V144.00M168.23 139.80V144.00M224.30 139.80V144.00M0 0.00H-4.4M0 27.96H-4.4M0 55.92H-4.4M0 83.88H-4.4M0 111.84H-4.4M0 139.80H-4.4" stroke="#000" stroke-width="1.3" fill="none"/>
<text x="-6.6" y="3.70" font-size="10.6" text-anchor="end" textLength="25" lengthAdjust="spacingAndGlyphs">35°N</text>
<text x="-6.6" y="31.66" font-size="10.6" text-anchor="end" textLength="25" lengthAdjust="spacingAndGlyphs">34°N</text>
<text x="-6.6" y="59.62" font-size="10.6" text-anchor="end" textLength="25" lengthAdjust="spacingAndGlyphs">33°N</text>
<text x="-6.6" y="87.58" font-size="10.6" text-anchor="end" textLength="25" lengthAdjust="spacingAndGlyphs">32°N</text>
<text x="-6.6" y="115.54" font-size="10.6" text-anchor="end" textLength="25" lengthAdjust="spacingAndGlyphs">31°N</text>
<text x="-6.6" y="143.50" font-size="10.6" text-anchor="end" textLength="25" lengthAdjust="spacingAndGlyphs">30°N</text>
<text x="0.00" y="154.40" font-size="10.6" text-anchor="middle" textLength="30" lengthAdjust="spacingAndGlyphs">115°E</text>
<text x="56.08" y="154.40" font-size="10.6" text-anchor="middle" textLength="30" lengthAdjust="spacingAndGlyphs">117°E</text>
<text x="112.15" y="154.40" font-size="10.6" text-anchor="middle" textLength="30" lengthAdjust="spacingAndGlyphs">119°E</text>
<text x="168.23" y="154.40" font-size="10.6" text-anchor="middle" textLength="30" lengthAdjust="spacingAndGlyphs">121°E</text>
<text x="224.30" y="154.40" font-size="10.6" text-anchor="middle" textLength="30" lengthAdjust="spacingAndGlyphs">123°E</text>
<text x="0.4" y="-5.2" font-size="14" textLength="89.5" lengthAdjust="spacingAndGlyphs">(a) 0600 UTC</text>
</g>
<g transform="translate(306.1 28.6)">
<path d="M56.08 0V139.80M112.15 0V139.80M168.23 0V139.80M0 27.96H224.30M0 55.92H224.30M0 83.88H224.30M0 111.84H224.30" stroke="#d4d4d4" stroke-width="1" fill="none"/>
<g filter="url(#fzbS)"><rect x="0" y="0" width="224.3" height="139.8" fill="#000"/><ellipse cx="110" cy="75" rx="100" ry="60" fill="rgb(59,59,59)"/><ellipse cx="165" cy="110" rx="25" ry="18" fill="rgb(82,82,82)"/><path d="M88.0 -2.0 L168.0 -2.0 L170.0 15.0 L172.0 35.0 L168.0 50.0 L162.0 65.0 L160.0 84.0 L140.0 88.0 L110.0 86.0 L85.0 82.0 L60.0 81.0 L40.0 76.0 L38.0 70.0 L55.0 64.0 L80.0 58.0 L95.0 50.0 L102.0 40.0 L98.0 25.0 L90.0 15.0 Z" fill="rgb(122,122,122)"/><path d="M108.0 -2.0 L165.0 -2.0 L168.0 12.0 L162.0 28.0 L150.0 34.0 L130.0 33.0 L115.0 28.0 L110.0 15.0 Z" fill="rgb(181,181,181)"/><ellipse cx="140" cy="4" rx="22" ry="7" fill="rgb(186,186,186)"/><ellipse cx="100" cy="15" rx="9" ry="15" fill="rgb(150,150,150)"/><ellipse cx="112" cy="38" rx="12" ry="10" fill="rgb(179,179,179)"/><ellipse cx="168" cy="35" rx="10" ry="22" fill="rgb(107,107,107)"/><ellipse cx="137" cy="73" rx="28" ry="12" transform="rotate(-15 137 73)" fill="rgb(166,166,166)"/><ellipse cx="65" cy="100" rx="20" ry="14" transform="rotate(-20 65 100)" fill="rgb(102,102,102)"/><ellipse cx="145.4" cy="44" rx="4.5" ry="4" fill="rgb(0,0,0)"/><ellipse cx="120.7" cy="10.2" rx="3.5" ry="3.5" fill="rgb(102,102,102)"/></g>
<g filter="url(#fzbC)"><rect x="0" y="0" width="224.3" height="139.8" fill="#000"/><path d="M38.0 72.0 L60.0 65.0 L85.0 60.0 L105.0 54.0 L122.0 52.0 L122.0 68.0 L100.0 78.0 L80.0 80.0 L55.0 79.0 Z" fill="rgb(177,177,177)"/><ellipse cx="128" cy="50" rx="24" ry="10" transform="rotate(-15 128 50)" fill="rgb(177,177,177)"/><ellipse cx="140" cy="35" rx="14" ry="8" transform="rotate(-20 140 35)" fill="rgb(141,141,141)"/><ellipse cx="135" cy="22" rx="20" ry="9" transform="rotate(-10 135 22)" fill="rgb(129,129,129)"/><ellipse cx="112" cy="122" rx="10" ry="4" fill="rgb(137,137,137)"/><ellipse cx="145.4" cy="44" rx="4.5" ry="4" fill="rgb(0,0,0)"/></g>
<g filter="url(#fzbK)"><rect x="0" y="0" width="224.3" height="139.8" fill="#000"/><ellipse cx="133" cy="76" rx="14" ry="3" transform="rotate(-10 133 76)" fill="rgb(173,173,173)"/><ellipse cx="70" cy="80" rx="11" ry="2.5" transform="rotate(-5 70 80)" fill="rgb(163,163,163)"/><ellipse cx="55" cy="90" rx="8" ry="1.6" transform="rotate(15 55 90)" fill="rgb(180,180,180)"/><ellipse cx="69" cy="93" rx="9" ry="1.6" transform="rotate(15 69 93)" fill="rgb(180,180,180)"/><ellipse cx="60" cy="100" rx="9" ry="1.6" transform="rotate(15 60 100)" fill="rgb(177,177,177)"/><ellipse cx="76" cy="104" rx="8" ry="1.6" transform="rotate(15 76 104)" fill="rgb(177,177,177)"/><ellipse cx="57" cy="110" rx="8" ry="1.6" transform="rotate(15 57 110)" fill="rgb(173,173,173)"/><ellipse cx="71" cy="113" rx="7" ry="1.6" transform="rotate(15 71 113)" fill="rgb(173,173,173)"/></g>
<ellipse cx="145.4" cy="44" rx="4.6" ry="4.2" fill="#fff" fill-opacity="1" filter="url(#hb)"/>
<ellipse cx="120.7" cy="10.2" rx="3.5" ry="3.5" fill="#fff" fill-opacity="0.6" filter="url(#hb)"/>
<g clip-path="url(#cp)"><use href="#bnd"/></g>
<rect x="0" y="0" width="224.3" height="139.8" fill="none" stroke="#000" stroke-width="1.4"/>
<path d="M0.00 139.80V144.00M56.08 139.80V144.00M112.15 139.80V144.00M168.23 139.80V144.00M224.30 139.80V144.00M0 0.00H-4.4M0 27.96H-4.4M0 55.92H-4.4M0 83.88H-4.4M0 111.84H-4.4M0 139.80H-4.4" stroke="#000" stroke-width="1.3" fill="none"/>
<text x="-6.6" y="3.70" font-size="10.6" text-anchor="end" textLength="25" lengthAdjust="spacingAndGlyphs">35°N</text>
<text x="-6.6" y="31.66" font-size="10.6" text-anchor="end" textLength="25" lengthAdjust="spacingAndGlyphs">34°N</text>
<text x="-6.6" y="59.62" font-size="10.6" text-anchor="end" textLength="25" lengthAdjust="spacingAndGlyphs">33°N</text>
<text x="-6.6" y="87.58" font-size="10.6" text-anchor="end" textLength="25" lengthAdjust="spacingAndGlyphs">32°N</text>
<text x="-6.6" y="115.54" font-size="10.6" text-anchor="end" textLength="25" lengthAdjust="spacingAndGlyphs">31°N</text>
<text x="-6.6" y="143.50" font-size="10.6" text-anchor="end" textLength="25" lengthAdjust="spacingAndGlyphs">30°N</text>
<text x="0.00" y="154.40" font-size="10.6" text-anchor="middle" textLength="30" lengthAdjust="spacingAndGlyphs">115°E</text>
<text x="56.08" y="154.40" font-size="10.6" text-anchor="middle" textLength="30" lengthAdjust="spacingAndGlyphs">117°E</text>
<text x="112.15" y="154.40" font-size="10.6" text-anchor="middle" textLength="30" lengthAdjust="spacingAndGlyphs">119°E</text>
<text x="168.23" y="154.40" font-size="10.6" text-anchor="middle" textLength="30" lengthAdjust="spacingAndGlyphs">121°E</text>
<text x="224.30" y="154.40" font-size="10.6" text-anchor="middle" textLength="30" lengthAdjust="spacingAndGlyphs">123°E</text>
<text x="0.4" y="-5.2" font-size="14" textLength="89.5" lengthAdjust="spacingAndGlyphs">(b) 0900 UTC</text>
</g>
<g transform="translate(36.6 206.6)">
<path d="M56.08 0V139.80M112.15 0V139.80M168.23 0V139.80M0 27.96H224.30M0 55.92H224.30M0 83.88H224.30M0 111.84H224.30" stroke="#d4d4d4" stroke-width="1" fill="none"/>
<g filter="url(#fzcS)"><rect x="0" y="0" width="224.3" height="139.8" fill="#000"/><ellipse cx="100" cy="100" rx="100" ry="40" fill="rgb(64,64,64)"/><ellipse cx="80" cy="80" rx="40" ry="25" transform="rotate(-15 80 80)" fill="rgb(89,89,89)"/><ellipse cx="95" cy="40" rx="8" ry="6" fill="rgb(122,122,122)"/><ellipse cx="98" cy="7" rx="8" ry="3" fill="rgb(115,115,115)"/><path d="M93.0 75.0 L105.0 62.0 L118.0 52.0 L128.0 45.0 L140.0 40.0 L155.0 36.0 L175.0 40.0 L195.0 52.0 L202.0 68.0 L192.0 85.0 L184.0 100.0 L172.0 110.0 L150.0 113.0 L130.0 113.0 L110.0 120.0 L95.0 112.0 Z" fill="rgb(150,150,150)"/><ellipse cx="125" cy="85" rx="22" ry="14" fill="rgb(181,181,181)"/><ellipse cx="172" cy="42" rx="16" ry="27" fill="rgb(166,166,166)"/><ellipse cx="148" cy="58" rx="16" ry="12" fill="rgb(196,196,196)"/><ellipse cx="134" cy="55" rx="7" ry="5" fill="rgb(153,153,153)"/><ellipse cx="100" cy="42" rx="8" ry="5" fill="rgb(145,145,145)"/><ellipse cx="187" cy="63" rx="10" ry="7" fill="rgb(150,150,150)"/><ellipse cx="168" cy="99" rx="13" ry="8" fill="rgb(161,161,161)"/><path d="M0.0 104.0 L20.0 102.0 L40.0 108.0 L70.0 110.0 L102.0 113.0 L112.0 124.0 L100.0 134.0 L60.0 135.0 L30.0 126.0 L0.0 120.0 Z" fill="rgb(130,130,130)"/><ellipse cx="190" cy="125" rx="20" ry="12" fill="rgb(89,89,89)"/></g>
<g filter="url(#fzcC)"><rect x="0" y="0" width="224.3" height="139.8" fill="#000"/><path d="M95.0 80.0 L110.0 68.0 L130.0 62.0 L150.0 60.0 L165.0 62.0 L170.0 75.0 L168.0 90.0 L160.0 100.0 L140.0 104.0 L120.0 108.0 L100.0 108.0 L93.0 95.0 Z" fill="rgb(143,143,143)"/><ellipse cx="143" cy="92" rx="9" ry="8" fill="rgb(180,180,180)"/><ellipse cx="155" cy="72" rx="10" ry="8" transform="rotate(-20 155 72)" fill="rgb(177,177,177)"/><ellipse cx="112" cy="106" rx="15" ry="9" transform="rotate(-10 112 106)" fill="rgb(177,177,177)"/><ellipse cx="106" cy="92" rx="12" ry="14" fill="rgb(167,167,167)"/><ellipse cx="12" cy="112" rx="14" ry="4" transform="rotate(5 12 112)" fill="rgb(157,157,157)"/><path d="M32.0 112.0 L50.0 111.0 L75.0 113.0 L100.0 116.0 L106.0 124.0 L96.0 129.0 L70.0 130.0 L45.0 126.0 L32.0 120.0 Z" fill="rgb(169,169,169)"/><ellipse cx="88" cy="122" rx="8" ry="4" fill="rgb(173,173,173)"/><ellipse cx="168" cy="99" rx="10" ry="7" fill="rgb(98,98,98)"/></g>
<g filter="url(#fzcK)"><rect x="0" y="0" width="224.3" height="139.8" fill="#000"/><ellipse cx="75" cy="80" rx="15" ry="3" transform="rotate(-15 75 80)" fill="rgb(141,141,141)"/><ellipse cx="85" cy="95" rx="14" ry="3" transform="rotate(-15 85 95)" fill="rgb(141,141,141)"/><ellipse cx="65" cy="70" rx="12" ry="2.5" transform="rotate(-10 65 70)" fill="rgb(137,137,137)"/></g>
<ellipse cx="91.6" cy="122.8" rx="3.8" ry="3.8" fill="#fff" fill-opacity="1" filter="url(#hb)"/>
<g clip-path="url(#cp)"><use href="#bnd"/></g>
<rect x="0" y="0" width="224.3" height="139.8" fill="none" stroke="#000" stroke-width="1.4"/>
<path d="M0.00 139.80V144.00M56.08 139.80V144.00M112.15 139.80V144.00M168.23 139.80V144.00M224.30 139.80V144.00M0 0.00H-4.4M0 27.96H-4.4M0 55.92H-4.4M0 83.88H-4.4M0 111.84H-4.4M0 139.80H-4.4" stroke="#000" stroke-width="1.3" fill="none"/>
<text x="-6.6" y="3.70" font-size="10.6" text-anchor="end" textLength="25" lengthAdjust="spacingAndGlyphs">35°N</text>
<text x="-6.6" y="31.66" font-size="10.6" text-anchor="end" textLength="25" lengthAdjust="spacingAndGlyphs">34°N</text>
<text x="-6.6" y="59.62" font-size="10.6" text-anchor="end" textLength="25" lengthAdjust="spacingAndGlyphs">33°N</text>
<text x="-6.6" y="87.58" font-size="10.6" text-anchor="end" textLength="25" lengthAdjust="spacingAndGlyphs">32°N</text>
<text x="-6.6" y="115.54" font-size="10.6" text-anchor="end" textLength="25" lengthAdjust="spacingAndGlyphs">31°N</text>
<text x="-6.6" y="143.50" font-size="10.6" text-anchor="end" textLength="25" lengthAdjust="spacingAndGlyphs">30°N</text>
<text x="0.00" y="154.40" font-size="10.6" text-anchor="middle" textLength="30" lengthAdjust="spacingAndGlyphs">115°E</text>
<text x="56.08" y="154.40" font-size="10.6" text-anchor="middle" textLength="30" lengthAdjust="spacingAndGlyphs">117°E</text>
<text x="112.15" y="154.40" font-size="10.6" text-anchor="middle" textLength="30" lengthAdjust="spacingAndGlyphs">119°E</text>
<text x="168.23" y="154.40" font-size="10.6" text-anchor="middle" textLength="30" lengthAdjust="spacingAndGlyphs">121°E</text>
<text x="224.30" y="154.40" font-size="10.6" text-anchor="middle" textLength="30" lengthAdjust="spacingAndGlyphs">123°E</text>
<text x="0.4" y="-5.2" font-size="14" textLength="89.5" lengthAdjust="spacingAndGlyphs">(c) 1200 UTC</text>
</g>
<g transform="translate(306.1 206.6)">
<path d="M56.08 0V139.80M112.15 0V139.80M168.23 0V139.80M0 27.96H224.30M0 55.92H224.30M0 83.88H224.30M0 111.84H224.30" stroke="#d4d4d4" stroke-width="1" fill="none"/>
<g filter="url(#fzdS)"><rect x="0" y="0" width="224.3" height="139.8" fill="#000"/><ellipse cx="90" cy="100" rx="80" ry="40" fill="rgb(64,64,64)"/><path d="M112.0 100.0 L122.0 82.0 L135.0 68.0 L155.0 62.0 L175.0 63.0 L188.0 70.0 L196.0 85.0 L200.0 105.0 L196.0 125.0 L190.0 141.0 L115.0 141.0 L110.0 120.0 Z" fill="rgb(140,140,140)"/><ellipse cx="180" cy="88" rx="13" ry="14" fill="rgb(171,171,171)"/><ellipse cx="176" cy="115" rx="22" ry="22" fill="rgb(156,156,156)"/><ellipse cx="128" cy="122" rx="14" ry="17" fill="rgb(184,184,184)"/><ellipse cx="150" cy="80" rx="15" ry="8" fill="rgb(158,158,158)"/><path d="M25.0 128.0 L45.0 124.0 L62.0 126.0 L66.0 134.0 L56.0 141.0 L30.0 141.0 Z" fill="rgb(153,153,153)"/><ellipse cx="185" cy="40" rx="4" ry="2.5" fill="rgb(145,145,145)"/><ellipse cx="80" cy="95" rx="25" ry="6" transform="rotate(-30 80 95)" fill="rgb(115,115,115)"/><ellipse cx="85" cy="110" rx="20" ry="10" fill="rgb(94,94,94)"/></g>
<g filter="url(#fzdC)"><rect x="0" y="0" width="224.3" height="139.8" fill="#000"/><ellipse cx="153" cy="99" rx="14" ry="18" fill="rgb(171,171,171)"/><ellipse cx="139" cy="97" rx="8" ry="9" fill="rgb(141,141,141)"/><ellipse cx="141" cy="118" rx="12" ry="7" fill="rgb(163,163,163)"/><ellipse cx="122" cy="112" rx="7" ry="9" fill="rgb(151,151,151)"/><ellipse cx="45" cy="134" rx="16" ry="5" transform="rotate(-10 45 134)" fill="rgb(161,161,161)"/></g>
<g filter="url(#fzdK)"><rect x="0" y="0" width="224.3" height="139.8" fill="#000"/><ellipse cx="78" cy="93" rx="16" ry="2" transform="rotate(-25 78 93)" fill="rgb(153,153,153)"/><ellipse cx="100" cy="80" rx="10" ry="2" transform="rotate(-25 100 80)" fill="rgb(145,145,145)"/></g>
<g clip-path="url(#cp)"><use href="#bnd"/></g>
<rect x="0" y="0" width="224.3" height="139.8" fill="none" stroke="#000" stroke-width="1.4"/>
<path d="M0.00 139.80V144.00M56.08 139.80V144.00M112.15 139.80V144.00M168.23 139.80V144.00M224.30 139.80V144.00M0 0.00H-4.4M0 27.96H-4.4M0 55.92H-4.4M0 83.88H-4.4M0 111.84H-4.4M0 139.80H-4.4" stroke="#000" stroke-width="1.3" fill="none"/>
<text x="-6.6" y="3.70" font-size="10.6" text-anchor="end" textLength="25" lengthAdjust="spacingAndGlyphs">35°N</text>
<text x="-6.6" y="31.66" font-size="10.6" text-anchor="end" textLength="25" lengthAdjust="spacingAndGlyphs">34°N</text>
<text x="-6.6" y="59.62" font-size="10.6" text-anchor="end" textLength="25" lengthAdjust="spacingAndGlyphs">33°N</text>
<text x="-6.6" y="87.58" font-size="10.6" text-anchor="end" textLength="25" lengthAdjust="spacingAndGlyphs">32°N</text>
<text x="-6.6" y="115.54" font-size="10.6" text-anchor="end" textLength="25" lengthAdjust="spacingAndGlyphs">31°N</text>
<text x="-6.6" y="143.50" font-size="10.6" text-anchor="end" textLength="25" lengthAdjust="spacingAndGlyphs">30°N</text>
<text x="0.00" y="154.40" font-size="10.6" text-anchor="middle" textLength="30" lengthAdjust="spacingAndGlyphs">115°E</text>
<text x="56.08" y="154.40" font-size="10.6" text-anchor="middle" textLength="30" lengthAdjust="spacingAndGlyphs">117°E</text>
<text x="112.15" y="154.40" font-size="10.6" text-anchor="middle" textLength="30" lengthAdjust="spacingAndGlyphs">119°E</text>
<text x="168.23" y="154.40" font-size="10.6" text-anchor="middle" textLength="30" lengthAdjust="spacingAndGlyphs">121°E</text>
<text x="224.30" y="154.40" font-size="10.6" text-anchor="middle" textLength="30" lengthAdjust="spacingAndGlyphs">123°E</text>
<text x="0.4" y="-5.2" font-size="14" textLength="89.5" lengthAdjust="spacingAndGlyphs">(d) 1500 UTC</text>
</g>
<rect x="84.30" y="372.60" width="35.03" height="12.60" fill="#ffffff"/>
<rect x="119.03" y="372.60" width="35.03" height="12.60" fill="#00ae00"/>
<rect x="153.75" y="372.60" width="35.03" height="12.60" fill="#def500"/>
<rect x="188.48" y="372.60" width="35.03" height="12.60" fill="#ffcc00"/>
<rect x="223.21" y="372.60" width="35.03" height="12.60" fill="#ff9a00"/>
<rect x="257.94" y="372.60" width="35.03" height="12.60" fill="#ff0000"/>
<rect x="292.66" y="372.60" width="35.03" height="12.60" fill="#ff0024"/>
<rect x="327.39" y="372.60" width="35.03" height="12.60" fill="#dd0038"/>
<rect x="362.12" y="372.60" width="35.03" height="12.60" fill="#980077"/>
<rect x="396.85" y="372.60" width="35.03" height="12.60" fill="#8a34aa"/>
<rect x="431.57" y="372.60" width="35.03" height="12.60" fill="#c9a2dc"/>
<rect x="84.30" y="372.60" width="382.00" height="12.60" fill="none" stroke="#555" stroke-width="0.9"/>
<text x="119.03" y="395.6" font-size="10.6" text-anchor="middle" textLength="12.6" lengthAdjust="spacingAndGlyphs">25</text>
<text x="153.75" y="395.6" font-size="10.6" text-anchor="middle" textLength="12.6" lengthAdjust="spacingAndGlyphs">30</text>
<text x="188.48" y="395.6" font-size="10.6" text-anchor="middle" textLength="12.6" lengthAdjust="spacingAndGlyphs">35</text>
<text x="223.21" y="395.6" font-size="10.6" text-anchor="middle" textLength="12.6" lengthAdjust="spacingAndGlyphs">40</text>
<text x="257.94" y="395.6" font-size="10.6" text-anchor="middle" textLength="12.6" lengthAdjust="spacingAndGlyphs">45</text>
<text x="292.66" y="395.6" font-size="10.6" text-anchor="middle" textLength="12.6" lengthAdjust="spacingAndGlyphs">50</text>
<text x="327.39" y="395.6" font-size="10.6" text-anchor="middle" textLength="12.6" lengthAdjust="spacingAndGlyphs">55</text>
<text x="362.12" y="395.6" font-size="10.6" text-anchor="middle" textLength="12.6" lengthAdjust="spacingAndGlyphs">60</text>
<text x="396.85" y="395.6" font-size="10.6" text-anchor="middle" textLength="12.6" lengthAdjust="spacingAndGlyphs">65</text>
<text x="431.57" y="395.6" font-size="10.6" text-anchor="middle" textLength="12.6" lengthAdjust="spacingAndGlyphs">70</text>
<text x="275.3" y="408.6" font-size="10.6" text-anchor="middle" textLength="85" lengthAdjust="spacingAndGlyphs">Reflectivity (dBZ)</text>
</svg></body></html>
